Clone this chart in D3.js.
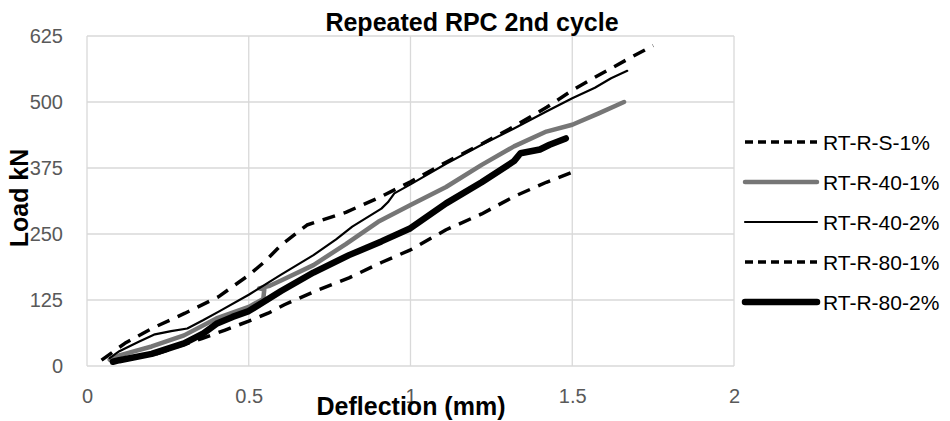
<!DOCTYPE html>
<html>
<head>
<meta charset="utf-8">
<script src="https://cdn.jsdelivr.net/npm/d3@7"></script>
<style>
  body { margin: 0; background: #fff; }
  svg { display: block; }
  text { font-family: "Liberation Sans", Arial, sans-serif; }
</style>
</head>
<body>
<svg id="chart" width="950" height="421"></svg>
<script>
// Labels and ticks
const chartTitle = "Repeated RPC 2nd cycle";
const xTitle = "Deflection (mm)";
const yTitle = "Load kN";
const xTicks = [0, 0.5, 1, 1.5, 2];
const yTicks = [0, 125, 250, 375, 500, 625];
const seriesNames = ["RT-R-S-1%", "RT-R-40-1%", "RT-R-40-2%", "RT-R-80-1%", "RT-R-80-2%"];

// Deflection (mm), load (kN) pairs per specimen
const rtRS1 = [[0.045, 11], [0.117, 43], [0.2, 71], [0.303, 100], [0.406, 131], [0.5, 172],
  [0.55, 198], [0.6, 229], [0.68, 267], [0.8, 291], [0.91, 321], [1.0, 349], [1.11, 386],
  [1.215, 419], [1.318, 453], [1.421, 490], [1.5, 522], [1.565, 545], [1.668, 580], [1.75, 607]];
const rtR40_1 = [[0.07, 12], [0.1, 20], [0.2, 37], [0.3, 58], [0.4, 90], [0.5, 112], [0.545, 127],
  [0.548, 145], [0.532, 147], [0.565, 152], [0.6, 162], [0.7, 191], [0.8, 231], [0.9, 273],
  [1.0, 305], [1.11, 339], [1.22, 381], [1.32, 416], [1.42, 444], [1.5, 457], [1.58, 478], [1.66, 500]];
const rtR40_2 = [[0.07, 15], [0.1, 28], [0.16, 46], [0.21, 60], [0.26, 66], [0.31, 71], [0.36, 87],
  [0.41, 104], [0.5, 135], [0.6, 173], [0.7, 210], [0.77, 240], [0.82, 264], [0.91, 298], [0.93, 310],
  [0.95, 327], [1.0, 344], [1.11, 383], [1.22, 419], [1.32, 450], [1.42, 482], [1.5, 507], [1.57, 527],
  [1.62, 545], [1.67, 559]];
const rtR80_1 = [[0.08, 8], [0.107, 11], [0.215, 23], [0.282, 37], [0.355, 52], [0.427, 68], [0.5, 85],
  [0.56, 100], [0.61, 116], [0.71, 143], [0.81, 167], [0.91, 196], [1.0, 220], [1.11, 258], [1.22, 288],
  [1.32, 321], [1.42, 348], [1.52, 372]];
const rtR80_2 = [[0.08, 8], [0.1, 11], [0.2, 23], [0.3, 43], [0.36, 62], [0.4, 80], [0.45, 93], [0.5, 104],
  [0.6, 142], [0.7, 177], [0.81, 210], [0.91, 236], [1.0, 261], [1.11, 308], [1.22, 348], [1.32, 388],
  [1.34, 403], [1.4, 410], [1.43, 419], [1.48, 431]];

const seriesData = [rtRS1, rtR40_1, rtR40_2, rtR80_1, rtR80_2];

// Line appearance per specimen
const seriesStyles = [
  { color: "#000000", width: 3.5, dash: "13,9", legendDash: "8,5", cap: "butt" },
  { color: "#767676", width: 4.5, dash: null, legendDash: null, cap: "round" },
  { color: "#000000", width: 2.2, dash: null, legendDash: null, cap: "round" },
  { color: "#000000", width: 3.5, dash: "13,9", legendDash: "8,5", cap: "butt" },
  { color: "#000000", width: 6.5, dash: null, legendDash: null, cap: "round" }
];

const svg = d3.select("#chart");
const plot = { left: 87, right: 734, top: 36, bottom: 366 };

const x = d3.scaleLinear().domain([0, 2]).range([plot.left, plot.right]);
const y = d3.scaleLinear().domain([0, 625]).range([plot.bottom, plot.top]);

// Grid
const grid = svg.append("g").attr("stroke", "#d9d9d9").attr("stroke-width", 1.3);
grid.selectAll("line.h").data(yTicks).join("line")
  .attr("x1", plot.left).attr("x2", plot.right)
  .attr("y1", d => y(d)).attr("y2", d => y(d));
grid.selectAll("line.v").data(xTicks).join("line")
  .attr("x1", d => x(d)).attr("x2", d => x(d))
  .attr("y1", plot.top).attr("y2", plot.bottom);

// Axes (labels only, the grid carries the lines)
const xAxis = svg.append("g")
  .attr("transform", `translate(0,${plot.bottom})`)
  .call(d3.axisBottom(x).tickValues(xTicks).tickSize(0).tickPadding(23).tickFormat(d3.format("~g")));
const yAxis = svg.append("g")
  .attr("transform", `translate(${plot.left},0)`)
  .call(d3.axisLeft(y).tickValues(yTicks).tickSize(0).tickPadding(24).tickFormat(d3.format("d")));
[xAxis, yAxis].forEach(a => {
  a.select(".domain").remove();
  a.selectAll("text")
    .attr("fill", "#595959")
    .style("font-size", "20px")
    .style("font-family", '"Liberation Sans", Arial, sans-serif');
});

// Series
const line = d3.line().x(d => x(d[0])).y(d => y(d[1]));
svg.append("g").selectAll("path").data(seriesData).join("path")
  .attr("d", line)
  .attr("fill", "none")
  .attr("stroke", (d, i) => seriesStyles[i].color)
  .attr("stroke-width", (d, i) => seriesStyles[i].width)
  .attr("stroke-dasharray", (d, i) => seriesStyles[i].dash)
  .attr("stroke-linecap", (d, i) => seriesStyles[i].cap)
  .attr("stroke-linejoin", "round");

// Titles
svg.append("text")
  .attr("x", 472).attr("y", 31)
  .attr("text-anchor", "middle")
  .style("font-size", "25px").style("font-weight", "bold")
  .text(chartTitle);
svg.append("text")
  .attr("x", 411).attr("y", 415)
  .attr("text-anchor", "middle")
  .style("font-size", "25px").style("font-weight", "bold")
  .text(xTitle);
svg.append("text")
  .attr("transform", "translate(28,198) rotate(-90)")
  .attr("text-anchor", "middle")
  .style("font-size", "25px").style("font-weight", "bold")
  .text(yTitle);

// Legend
const legend = svg.append("g");
const rows = legend.selectAll("g").data(seriesNames).join("g")
  .attr("transform", (d, i) => `translate(745,${142 + i * 40})`);
rows.append("line")
  .attr("x1", 0).attr("x2", 72).attr("y1", 0).attr("y2", 0)
  .attr("stroke", (d, i) => seriesStyles[i].color)
  .attr("stroke-width", (d, i) => seriesStyles[i].width)
  .attr("stroke-dasharray", (d, i) => seriesStyles[i].legendDash)
  .attr("stroke-linecap", (d, i) => seriesStyles[i].cap);
rows.append("text")
  .attr("x", 78).attr("y", 0).attr("dy", "0.36em")
  .style("font-size", "21px")
  .attr("fill", "#000")
  .text(d => d);
</script>
</body>
</html>
